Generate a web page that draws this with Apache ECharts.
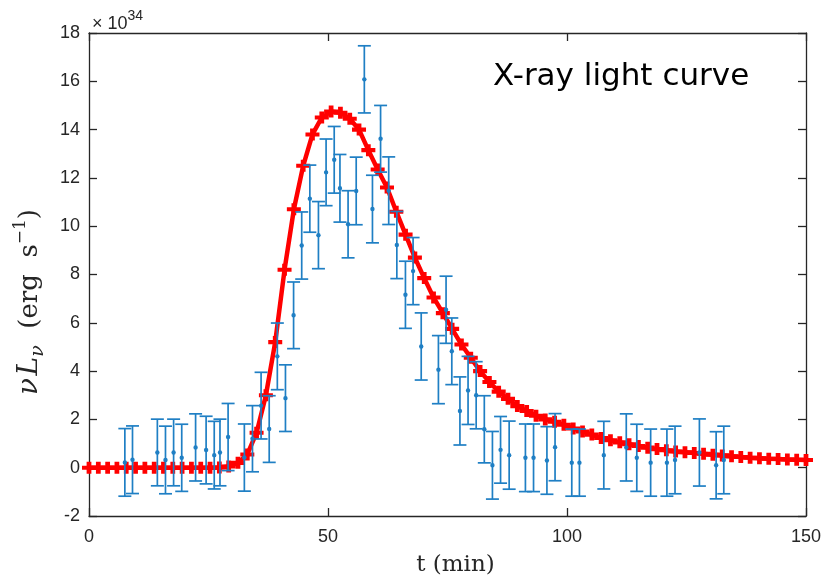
<!DOCTYPE html>
<html><head><meta charset="utf-8">
<script src="https://cdn.jsdelivr.net/npm/echarts@6/dist/echarts.min.js"></script>
<style>html,body{margin:0;padding:0;background:#fff}#c{width:823px;height:575px}</style>
</head><body><div id="c"></div>
<script>
// Observed data (units of 1e34 erg/s)
var obsT = [7.5, 9.1, 14.3, 16.0, 17.7, 19.4, 22.3, 24.5, 26.2, 27.4, 29.1, 32.5, 34.2, 36.0, 37.7, 39.4, 41.1, 42.8, 44.5, 46.2, 48.0, 49.6, 51.3, 52.5, 54.2, 55.9, 57.6, 59.3, 61.0, 62.7, 64.4, 66.2, 67.8, 69.5, 73.1, 74.7, 75.9, 77.6, 79.3, 81.0, 82.7, 84.4, 86.1, 87.9, 91.3, 93.0, 95.8, 97.5, 101.0, 102.6, 107.7, 112.4, 114.6, 117.5, 120.9, 122.6, 127.7, 131.2, 132.8];
var obsY = [0.22, 0.33, 0.63, 0.32, 0.63, 0.41, 0.84, 0.73, 0.52, 0.63, 1.27, 0.42, 1.2, 2.57, 1.6, 4.61, 2.88, 6.31, 9.2, 11.14, 9.63, 12.23, 12.75, 11.57, 10.08, 11.46, 16.08, 10.71, 13.62, 11.47, 9.22, 7.16, 8.14, 5.02, 4.06, 6.54, 4.82, 2.35, 3.2, 3.0, 1.59, 0.1, 0.74, 0.52, 0.41, 0.41, 0.3, 0.85, 0.21, 0.21, 0.52, 0.84, 0.41, 0.21, 0.21, 0.32, 0.63, 0.1, 0.32];
var obsErr = [1.4, 1.4, 1.38, 1.4, 1.38, 1.39, 1.39, 1.4, 1.4, 1.38, 1.39, 1.39, 1.37, 1.38, 1.38, 1.38, 1.38, 1.38, 1.39, 1.39, 1.39, 1.38, 1.38, 1.4, 1.39, 1.4, 1.39, 1.4, 1.38, 1.4, 1.39, 1.39, 1.39, 1.39, 1.41, 1.39, 1.38, 1.41, 1.41, 1.39, 1.39, 1.4, 1.38, 1.41, 1.4, 1.4, 1.4, 1.39, 1.39, 1.39, 1.4, 1.39, 1.39, 1.39, 1.39, 1.4, 1.39, 1.39, 1.4];

// Model light curve
var modelT = [0, 1.95, 3.9, 5.84, 7.79, 9.74, 11.69, 13.64, 15.58, 17.53, 19.48, 21.43, 23.38, 25.32, 27.27, 29.22, 31.17, 33.12, 35.06, 37.01, 38.96, 40.91, 42.86, 44.81, 46.75, 48.7, 50.65, 52.6, 54.55, 56.49, 58.44, 60.39, 62.34, 64.29, 66.23, 68.18, 70.13, 72.08, 74.03, 75.97, 77.92, 79.87, 81.82, 83.77, 85.71, 87.66, 89.61, 91.56, 93.51, 95.45, 97.4, 99.35, 101.3, 103.25, 105.19, 107.14, 109.09, 111.04, 112.99, 114.94, 116.88, 118.83, 120.78, 122.73, 124.68, 126.62, 128.57, 130.52, 132.47, 134.42, 136.36, 138.31, 140.26, 142.21, 144.16, 146.1, 148.05, 150];
var modelY = [0, 0, 0, 0, 0, 0, 0, 0, 0, 0, 0, 0, 0, 0, 0.01, 0.05, 0.2, 0.55, 1.45, 3.0, 5.2, 8.2, 10.7, 12.5, 13.8, 14.5, 14.75, 14.7, 14.45, 14.0, 13.15, 12.35, 11.6, 10.6, 9.65, 8.7, 7.85, 7.05, 6.4, 5.75, 5.1, 4.55, 4.0, 3.55, 3.15, 2.85, 2.55, 2.35, 2.15, 2.0, 1.9, 1.78, 1.62, 1.5, 1.37, 1.23, 1.14, 1.05, 0.97, 0.9, 0.83, 0.77, 0.72, 0.67, 0.64, 0.61, 0.58, 0.54, 0.51, 0.47, 0.44, 0.41, 0.39, 0.37, 0.36, 0.34, 0.33, 0.32];

var xTicks = [0, 50, 100, 150];
var yTicks = [-2, 0, 2, 4, 6, 8, 10, 12, 14, 16, 18];

var blue = '#1f7fc4';
var axisColor = '#262626';
var plusPath = 'path://M0,3.3 L3.3,3.3 L3.3,0 L6.7,0 L6.7,3.3 L10,3.3 L10,6.7 L6.7,6.7 L6.7,10 L3.3,10 L3.3,6.7 L0,6.7 Z';

var obsData = obsT.map(function (t, i) { return [t, obsY[i], obsErr[i]]; });
var modelData = modelT.map(function (t, i) { return [t, modelY[i]]; });

var chart = echarts.init(document.getElementById('c'), null, {renderer: 'canvas'});
var tickFont = {color: '#262626', fontSize: 18, fontFamily: 'Liberation Sans, Arial, sans-serif'};
var commonAxisLine = {show: true, onZero: false, lineStyle: {color: axisColor, width: 1.3}};
var commonTick = {show: true, inside: true, length: 8, lineStyle: {color: axisColor, width: 1.3}};

chart.setOption({
  animation: false,
  backgroundColor: '#fff',
  grid: {left: 89, right: 17, top: 33, bottom: 59, containLabel: false, outerBoundsMode: 'none'},
  xAxis: [{
    type: 'value', min: xTicks[0], max: xTicks[xTicks.length - 1], interval: 50,
    position: 'bottom',
    axisLine: commonAxisLine, axisTick: commonTick, splitLine: {show: false},
    axisLabel: Object.assign({margin: 12}, tickFont),
    name: 't (min)', nameLocation: 'middle', nameGap: 38,
    nameTextStyle: {fontFamily: 'DejaVu Serif, Liberation Serif, serif', fontSize: 23, color: '#262626', padding: [0, 0, 0, 16]}
  }, {
    type: 'value', min: 0, max: 150, interval: 50, position: 'top',
    axisLine: commonAxisLine, axisTick: commonTick, axisLabel: {show: false}, splitLine: {show: false}
  }],
  yAxis: [{
    type: 'value', min: yTicks[0], max: yTicks[yTicks.length - 1], interval: 2,
    position: 'left',
    axisLine: commonAxisLine, axisTick: commonTick, splitLine: {show: false},
    axisLabel: Object.assign({margin: 9}, tickFont)
  }, {
    type: 'value', min: -2, max: 18, interval: 2, position: 'right',
    axisLine: commonAxisLine, axisTick: commonTick, axisLabel: {show: false}, splitLine: {show: false}
  }],
  graphic: [
    {type: 'text', x: 92, y: 21, style: {
      text: '{a|\u00d7 10}{s|34}', verticalAlign: 'middle',
      rich: {a: {fontSize: 18, fontFamily: 'Liberation Sans, Arial, sans-serif', fill: '#262626', lineHeight: 24, verticalAlign: 'bottom'},
             s: {fontSize: 14, fontFamily: 'Liberation Sans, Arial, sans-serif', fill: '#262626', lineHeight: 24, verticalAlign: 'top'}}
    }},
    {type: 'text', x: 30, y: 302, rotation: Math.PI / 2, style: {
      text: '{i|\u03bd}{g| }{i|L}{sub|\u03bd}{r|  (erg  s}{sup|\u22121}{r|)}', align: 'center', verticalAlign: 'middle',
      rich: {
        i: {fontSize: 28, fontStyle: 'italic', fontFamily: 'DejaVu Serif, Liberation Serif, serif', fill: '#262626', lineHeight: 36, verticalAlign: 'middle'},
        g: {fontSize: 8, fontFamily: 'DejaVu Serif, serif', lineHeight: 36},
        sub: {fontSize: 19, fontStyle: 'italic', fontFamily: 'DejaVu Serif, Liberation Serif, serif', fill: '#262626', lineHeight: 36, verticalAlign: 'bottom'},
        r: {fontSize: 26, fontFamily: 'DejaVu Serif, Liberation Serif, serif', fill: '#262626', lineHeight: 36, verticalAlign: 'middle'},
        sup: {fontSize: 17, fontFamily: 'DejaVu Serif, Liberation Serif, serif', fill: '#262626', lineHeight: 36, verticalAlign: 'top'}
      }
    }},
    {type: 'text', x: 493, y: 77, style: {
      text: 'X-ray light curve', fontSize: 31, fontFamily: 'DejaVu Sans, sans-serif', fill: '#000', verticalAlign: 'middle'
    }}
  ],
  series: [
    {
      type: 'line', data: modelData, z: 2,
      lineStyle: {color: '#ff0000', width: 4.5},
      symbol: plusPath, symbolSize: [14, 12], showSymbol: true,
      itemStyle: {color: '#ff0000'}
    },
    {
      type: 'custom', data: obsData, z: 3,
      encode: {x: 0, y: 1},
      renderItem: function (params, api) {
        var t = api.value(0), y = api.value(1), e = api.value(2);
        var top = api.coord([t, y + e]);
        var bot = api.coord([t, y - e]);
        var mid = api.coord([t, y]);
        var hw = 6.5;
        var ls = {stroke: blue, lineWidth: 1.7};
        return {type: 'group', children: [
          {type: 'line', shape: {x1: top[0], y1: top[1], x2: bot[0], y2: bot[1]}, style: ls},
          {type: 'line', shape: {x1: top[0] - hw, y1: top[1], x2: top[0] + hw, y2: top[1]}, style: ls},
          {type: 'line', shape: {x1: bot[0] - hw, y1: bot[1], x2: bot[0] + hw, y2: bot[1]}, style: ls},
          {type: 'circle', shape: {cx: mid[0], cy: mid[1], r: 2.2}, style: {fill: blue}}
        ]};
      }
    }
  ]
});
</script>
</body></html>
